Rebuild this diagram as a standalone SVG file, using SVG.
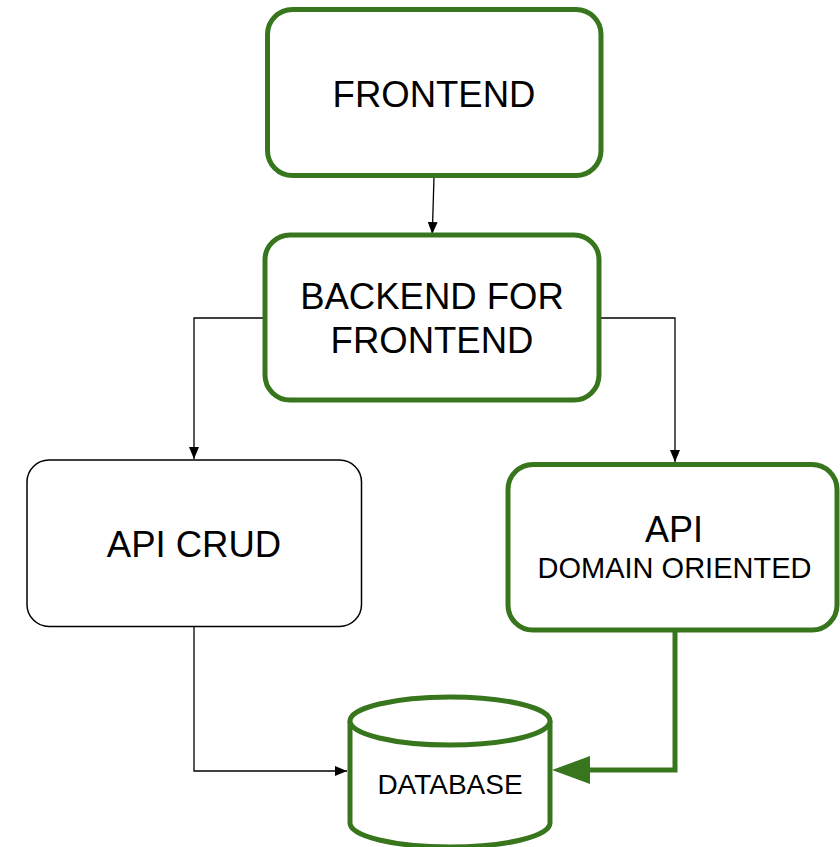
<svg xmlns="http://www.w3.org/2000/svg" width="840" height="847" viewBox="0 0 840 847">
<style>
.g{fill:#ffffff;stroke:#38761d;stroke-width:5}
.b{fill:#ffffff;stroke:#000000;stroke-width:1.5}
.t{font-family:"Liberation Sans",Arial,sans-serif;fill:#000000;text-anchor:middle}
.c{fill:none;stroke:#000000;stroke-width:1.3}
</style>
<defs>
<marker id="ah" markerWidth="12" markerHeight="10" refX="12" refY="5" orient="auto" markerUnits="userSpaceOnUse">
<path d="M0,0 L12,5 L0,10 Z" fill="#000000"/>
</marker>
</defs>
<rect width="840" height="847" fill="#ffffff"/>
<g id="connectors">
<path class="c" d="M434,177 L432.3,234" marker-end="url(#ah)"/>
<path class="c" d="M265,318 L194,318 L194,459" marker-end="url(#ah)"/>
<path class="c" d="M599,318 L675,318 L675,462" marker-end="url(#ah)"/>
<path class="c" d="M194,627 L194,771 L347,771" marker-end="url(#ah)"/>
<path d="M675,630 L675,770 L588,770" fill="none" stroke="#38761d" stroke-width="5"/>
<polygon points="552,770 590,756 590,784" fill="#38761d"/>
</g>
<g id="frontend">
<rect class="g" x="267.5" y="9.5" width="333.5" height="166" rx="25"/>
<text class="t" x="434" y="107" font-size="36.5">FRONTEND</text>
</g>
<g id="bff">
<rect class="g" x="265" y="235" width="334" height="165" rx="25"/>
<text class="t" x="432" y="309" font-size="36.5">BACKEND FOR</text>
<text class="t" x="432" y="353" font-size="36.5">FRONTEND</text>
</g>
<g id="api-crud">
<rect class="b" x="27" y="460" width="334.5" height="166.5" rx="22"/>
<text class="t" x="194" y="557" font-size="36.5">API CRUD</text>
</g>
<g id="api-domain">
<rect class="g" x="508" y="464.5" width="329" height="165.5" rx="25"/>
<text class="t" x="674" y="542" font-size="36">API</text>
<text class="t" x="674.5" y="578" font-size="29">DOMAIN ORIENTED</text>
</g>
<g id="database">
<path class="g" d="M350,721 L350,823 A100,24 0 0 0 550,823 L550,721"/>
<ellipse class="g" cx="450" cy="721" rx="100" ry="24"/>
<text class="t" x="450" y="794" font-size="28">DATABASE</text>
</g>
</svg>
